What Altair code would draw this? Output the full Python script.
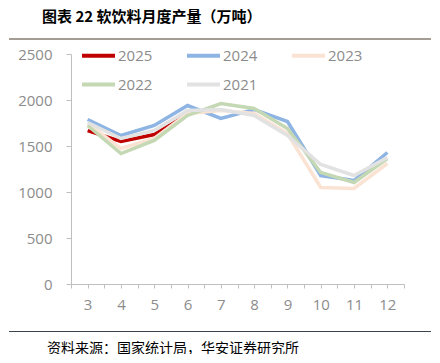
import altair as alt
import pandas as pd

months = [3, 4, 5, 6, 7, 8, 9, 10, 11, 12]
years = ["2025", "2024", "2023", "2022", "2021"]
colors = ["#C00000", "#8DB4E2", "#FBE3D4", "#C4D8B4", "#E2E2E2"]

v2025 = [1668, 1549, 1625, 1842]
v2024 = [1788, 1614, 1723, 1940, 1799, 1897, 1766, 1179, 1125, 1429]
v2023 = [1745, 1473, 1582, 1853, 1886, 1853, 1636, 1049, 1038, 1310]
v2022 = [1723, 1418, 1560, 1832, 1962, 1908, 1690, 1212, 1103, 1364]
v2021 = [1755, 1582, 1668, 1886, 1897, 1832, 1614, 1299, 1179, 1375]

title_text = "图表 22 软饮料月度产量（万吨）"
source_text = "资料来源：国家统计局，华安证券研究所"

series = {"2025": v2025, "2024": v2024, "2023": v2023, "2022": v2022, "2021": v2021}
rows = []
for y in years:
    for m, v in zip(months, series[y]):
        rows.append({"month": m, "value": v, "year": y})
df = pd.DataFrame(rows)

tick_vals = [2.5 + 0.5 * i for i in range(21)]

lines = alt.Chart(df).mark_line(strokeWidth=3.5).encode(
    x=alt.X("month:Q", scale=alt.Scale(domain=[2.5, 12.5], nice=False, zero=False),
            axis=alt.Axis(values=tick_vals,
                          labelExpr="datum.value % 1 == 0 ? toString(datum.value) : ''",
                          title=None, grid=False, tickSize=4, labelPadding=9,
                          domainColor="#BFBFBF", tickColor="#BFBFBF", labelColor="#8C8C8C",
                          labelFontSize=15, labelFont="Open Sans", domainWidth=1,
                          labelOverlap=False)),
    y=alt.Y("value:Q", scale=alt.Scale(domain=[0, 2500], nice=False),
            axis=alt.Axis(values=[0, 500, 1000, 1500, 2000, 2500], format="d", title=None,
                          grid=False, tickSize=5, labelPadding=14, domainColor="#BFBFBF",
                          tickColor="#BFBFBF", labelColor="#8C8C8C", labelFontSize=15,
                          labelFont="Open Sans")),
    color=alt.Color("year:N", scale=alt.Scale(domain=years, range=colors),
                    sort=years,
                    legend=alt.Legend(orient="none", legendX=9, legendY=-17, columns=3,
                                      direction="horizontal",
                                      title=None, symbolType="stroke", symbolSize=1089,
                                      symbolStrokeWidth=4, labelFontSize=15, labelColor="#8C8C8C",
                                      labelFont="Open Sans", columnPadding=26, rowPadding=2,
                                      labelOffset=1, gridAlign="all")),
    order=alt.Order("month:Q"),
)

title = alt.Chart(pd.DataFrame({"t": [title_text]})).mark_text(
    align="left", baseline="middle", fontSize=15, fontWeight="bold",
    font="Noto Sans CJK SC", color="#000000"
).encode(text="t:N", x=alt.value(-29), y=alt.value(-37))

source = alt.Chart(pd.DataFrame({"t": [source_text]})).mark_text(
    align="left", baseline="middle", fontSize=14, font="Noto Sans CJK SC", color="#000000"
).encode(text="t:N", x=alt.value(-24), y=alt.value(295))

sep = pd.DataFrame({"kind": ["a"]})


def segments(ypos, color, width):
    parts = []
    parts.append(alt.Chart(sep).mark_rule(color=color, strokeWidth=width).encode(
        x=alt.value(-50), x2=alt.value(300), y=alt.value(ypos)))
    parts.append(alt.Chart(sep).mark_rule(color=color, strokeWidth=width).encode(
        y=alt.value(ypos)))
    parts.append(alt.Chart(sep).mark_rule(color=color, strokeWidth=width).encode(
        x=alt.value(-62), x2=alt.value(-48), y=alt.value(ypos)))
    parts.append(alt.Chart(sep).mark_rule(color=color, strokeWidth=width).encode(
        x=alt.value(330), x2=alt.value(360), y=alt.value(ypos)))
    return parts


rules = segments(-15, "#A39D94", 2) + segments(277.5, "#3B4350", 1)

chart = alt.layer(lines, title, source, *rules).properties(
    width=333, height=230,
    padding={"left": 63, "top": 46, "right": 28, "bottom": 70},
    autosize=alt.AutoSizeParams(type="none"),
    background="white",
).configure_view(stroke=None)

chart.save("out.html", embed_options={"renderer": "svg", "actions": False})
